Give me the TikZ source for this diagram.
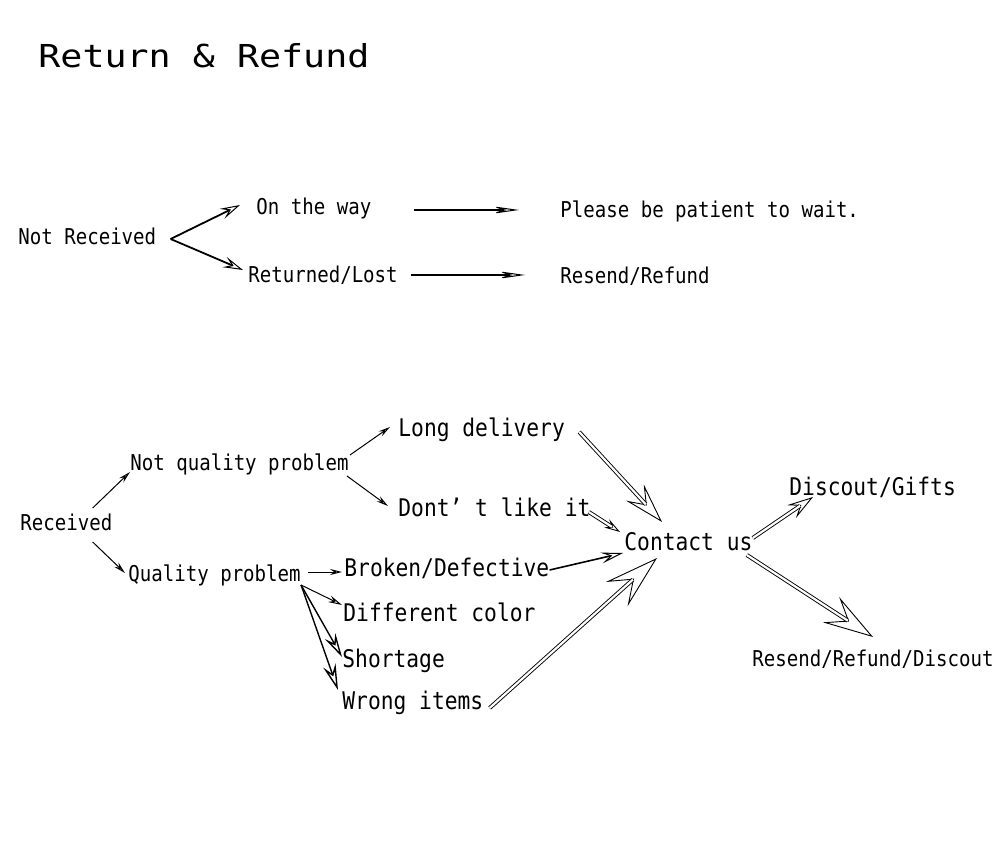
\documentclass[tikz,border=0pt]{standalone}
\usepackage{fontspec}
\usetikzlibrary{arrows.meta, calc}
\newfontfamily\heifont[FakeStretch=0.875]{DejaVu Sans Mono}
\newfontfamily\titlefont[FakeStretch=1.16]{DejaVu Sans Mono}
\tikzset{
  txt/.style={
    anchor=west,
    inner sep=0pt,
    text height=8.2pt,
    text depth=2.2pt,
    font=\heifont\fontsize{10.9}{12}\selectfont
  },
  bigtxt/.style={
    txt,
    text height=9.1pt,
    text depth=2.4pt,
    font=\heifont\fontsize{12.15}{13}\selectfont
  },
  fork/.style={
    line width=0.9pt,
    -{Stealth[open, length=10pt, width=5.5pt, inset=4pt, line width=0.5pt]}
  },
  lead/.style={
    line width=0.6pt,
    -{Stealth[open, length=14pt, width=4pt, inset=6pt, line width=0.5pt]}
  },
  twig/.style={
    line width=0.5pt,
    -{Stealth[open, length=#1, width'=0pt 0.5, inset'=0pt 0.35]}
  },
  twig/.default=6pt,
  dblarrow/.style={
    line width=0.45pt,
    -{Stealth[open, length=#1, width'=0pt 0.6, inset'=0pt 0.4]},
    postaction={draw, -, double, double distance=1.1pt, shorten >=0.6*#1}
  }
}

\begin{document}
\begin{tikzpicture}[x=0.5pt, y=-0.5pt]
  \useasboundingbox (0,0) rectangle (1000,855);
  \node[anchor=base west, inner sep=0pt, font=\titlefont\fontsize{15.8}{18}\selectfont] (title) at (38,68) {Return \& Refund};

  % not received
  \node[txt] (nr) at (18,239) {Not Received};
  \node[txt] (otw) at (256,209) {On the way};
  \node[txt] (rl) at (248,277) {Returned/Lost};
  \node[txt] (pat) at (560,212) {Please be patient to wait.};
  \node[txt] (rr) at (560,278) {Resend/Refund};

  \draw[fork] ($(nr.east)+(14,0)$) -- ($(otw.west)+(-16,-4)$);
  \draw[fork] ($(nr.east)+(14,0)$) -- ($(rl.west)+(-5,-7)$);
  \draw[lead] ($(otw.east)+(42,1)$) -- ($(pat.west)+(-41,-2)$);
  \draw[lead] ($(rl.east)+(13,-2)$) -- ($(rr.west)+(-35,-3)$);

  % received
  \node[txt] (rec) at (20,524) {Received};
  \node[txt] (nqp) at (130,464) {Not quality problem};
  \node[txt] (qp) at (128,575) {Quality problem};
  \node[bigtxt] (ld) at (398,430) {Long delivery};
  \node[bigtxt] (dl) at (398,510) {Dont’ t like it};
  \node[bigtxt] (bd) at (344,570) {Broken/Defective};
  \node[bigtxt] (dc) at (343,615) {Different color};
  \node[bigtxt] (sh) at (342,661) {Shortage};
  \node[bigtxt] (wi) at (342,703) {Wrong items};
  \node[bigtxt] (cu) at (624,544) {Contact us};
  \node[bigtxt] (dg) at (789,489) {Discout/Gifts};
  \node[txt] (rrd) at (752,660) {Resend/Refund/Discout};

  \draw[twig] ($(rec.east)+(-20,-16)$) -- ($(nqp.west)+(0,8)$);
  \draw[twig] ($(rec.east)+(-20,18)$) -- ($(qp.west)+(-3,-2)$);
  \draw[twig] ($(nqp.east)+(1,-9)$) -- ($(ld.west)+(-8,-3)$);
  \draw[twig] ($(nqp.east)+(-2,12)$) -- ($(dl.west)+(-10,-4)$);
  \draw[twig] ($(qp.east)+(7,-3)$) -- ($(bd.west)+(-2,2)$);
  \draw[twig=7pt] ($(qp.east)+(0,10)$) -- ($(dc.west)+(-1,-10)$);
  \draw[twig=12pt, line width=0.7pt] ($(qp.east)+(0,10)$) -- ($(sh.west)+(0,-4)$);
  \draw[twig=13pt, line width=0.7pt] ($(qp.east)+(0,10)$) -- ($(wi.west)+(-4,-13)$);

  \draw[dblarrow=20pt] ($(ld.east)+(14,2)$) -- ($(cu.west)+(38,-22)$);
  \draw[dblarrow=8pt] ($(dl.east)+(-2,2)$) -- ($(cu.west)+(-4,-12)$);
  \draw[line width=0.8pt, -{Stealth[open, length=11pt, width=5.5pt, inset=4.5pt, line width=0.5pt]}] (bd.east) -- ($(cu.west)+(-1,9)$);
  \draw[dblarrow=27pt] ($(wi.east)+(6,5)$) -- ($(cu.west)+(33,14)$);
  \draw[dblarrow=13pt] ($(cu.east)+(0,-6)$) -- ($(dg.west)+(24,8)$);
  \draw[dblarrow=25pt] ($(cu.east)+(-6,11)$) -- ($(rrd.west)+(121,-23)$);
\end{tikzpicture}
\end{document}
